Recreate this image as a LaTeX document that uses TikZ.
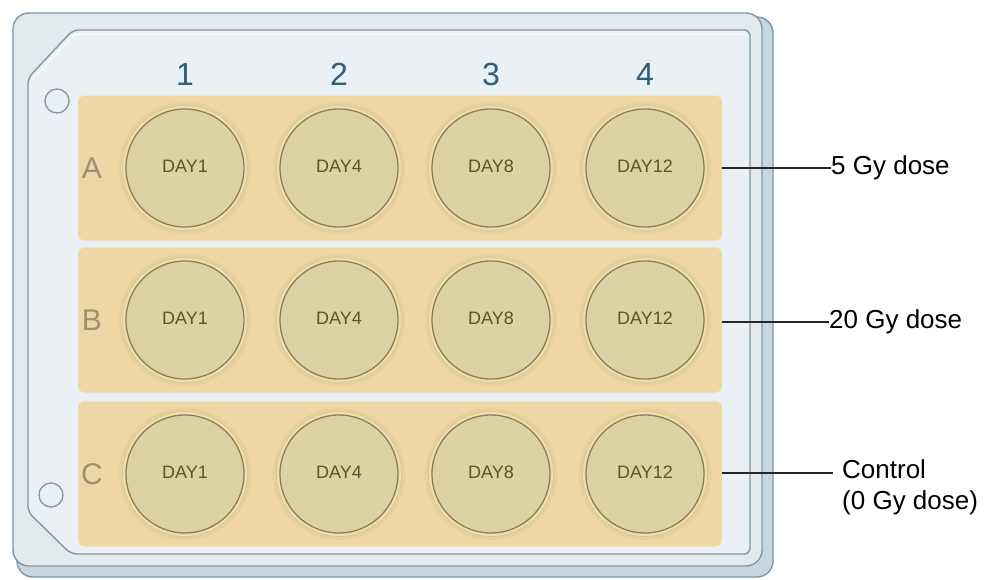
\documentclass[tikz,border=0pt]{standalone}
\usepackage{fontspec}
\setmainfont{Liberation Sans}
\begin{document}
\begin{tikzpicture}[x=1pt,y=-1pt,
  plateline/.style={draw=plateedge,line width=1.4pt},
  rowbox/.style={rectangle,rounded corners=7pt,fill=rowfill,minimum width=644pt,minimum height=145pt,inner sep=0pt},
  wellhalo/.style={circle,fill=halofill,minimum size=132pt,inner sep=0pt},
  wellring/.style={circle,fill=ringfill,draw=ringedge,line width=0.8pt,minimum size=125pt,inner sep=0pt},
  well/.style={circle,fill=wellfill,draw=welledge,line width=1.3pt,minimum size=118pt,inner sep=0pt,
    font=\fontsize{18}{20}\selectfont,text=daytext},
  collabel/.style={font=\fontsize{32}{34}\selectfont,text=coltext},
  rowlabel/.style={font=\fontsize{30}{32}\selectfont,text=rowtext},
  dose/.style={font=\fontsize{26}{31}\selectfont,anchor=west,inner sep=0pt,align=left},
  hole/.style={circle,draw=plateedge,line width=1.3pt,minimum size=24pt,inner sep=0pt},
  leader/.style={draw=black!85,line width=1.3pt}
]
\definecolor{plateedge}{HTML}{7E98A6}
\definecolor{platefill}{HTML}{E3EAEE}
\definecolor{backfill}{HTML}{C8D7DF}
\definecolor{innerfill}{HTML}{EAF0F3}
\definecolor{rowfill}{HTML}{EFD7A5}
\definecolor{halofill}{HTML}{E8D09A}
\definecolor{ringfill}{HTML}{EEDFB2}
\definecolor{ringedge}{HTML}{DCC792}
\definecolor{wellfill}{HTML}{DCD2A3}
\definecolor{welledge}{HTML}{8E7E52}
\definecolor{daytext}{HTML}{63502C}
\definecolor{coltext}{HTML}{2F5E7A}
\definecolor{rowtext}{HTML}{9C9272}

\useasboundingbox (0,0) rectangle (988,579);
\fill[white] (0,0) rectangle (988,579);

% plate body: back layer and front layer
\draw[plateline,fill=backfill,rounded corners=16pt] (17,17) rectangle (773,577);
\draw[plateline,fill=platefill,rounded corners=16pt] (13,13) rectangle (762,566);

% raised inner area with chamfered left corners
\draw[plateline,fill=innerfill,rounded corners=6pt]
  (28,78) -- (73,30) -- (750,30) -- (750,554) -- (71,554) -- (28,512) -- cycle;
\draw[white,line width=1pt,rounded corners=5pt]
  (32,80) -- (75,34) -- (746,34);

% fixing holes
\node[hole] (holeTop) at (57,101) {};
\node[hole] (holeBot) at (51,495) {};

% well rows
\node[rowbox] (rowA) at (400,168) {};
\node[rowbox] (rowB) at (400,320) {};
\node[rowbox] (rowC) at (400,474) {};

% column and row labels
\foreach \c/\x in {1/185,2/339,3/491,4/645}
  \node[collabel] (col\c) at (\x,74) {\c};
\foreach \r/\y in {A/168,B/320,C/474}
  \node[rowlabel] (lab\r) at (92,\y) {\r};

% wells
\foreach \r/\y in {A/168,B/320,C/474}{
  \foreach \c/\x/\d in {1/185/DAY1,2/339/DAY4,3/491/DAY8,4/645/DAY12}{
    \node[wellhalo] (halo\r\c) at (\x,\y) {};
    \node[wellring] (ring\r\c) at (\x,\y) {};
    \node[well] (well\r\c) at (\x,\y) {\raisebox{3pt}{\d}};
  }
}

% dose labels and leader lines
\node[dose] (doseA) at (831,168) {5 Gy dose};
\node[dose] (doseB) at (829,322) {20 Gy dose};
\node[dose] (doseC) at (842,487) {Control\\(0 Gy dose)};

\draw[leader] (rowA.east) -- (doseA.west);
\draw[leader] (rowB.east |- doseB.west) -- (doseB.west);
\draw[leader] ([yshift=1pt]rowC.east) -- ([xshift=-9pt,yshift=1pt]rowC.east -| doseC.west);
\end{tikzpicture}
\end{document}
